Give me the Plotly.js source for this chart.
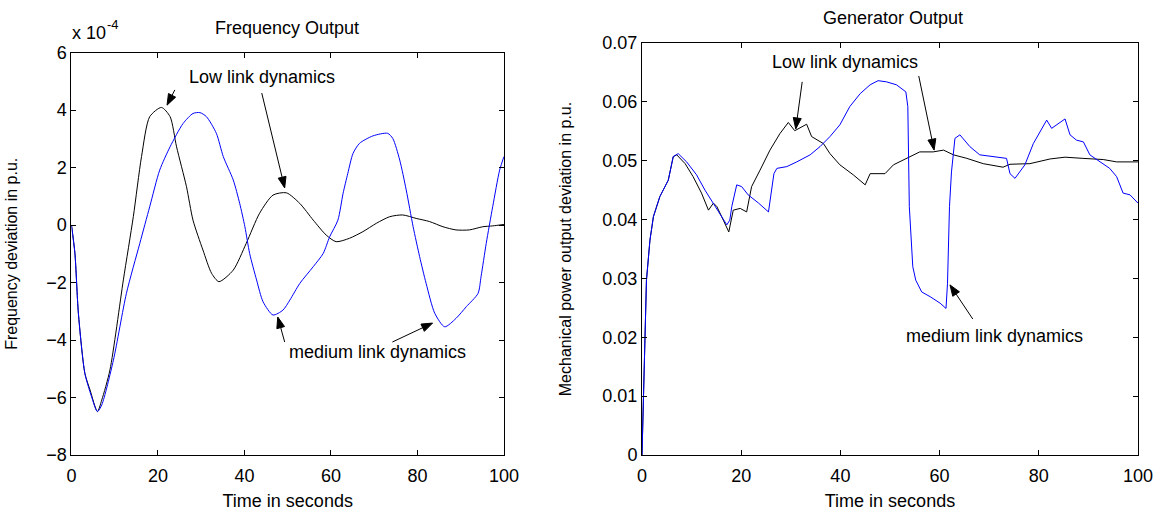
<!DOCTYPE html>
<html>
<head>
<meta charset="utf-8">
<script src="https://cdn.plot.ly/plotly-3.0.1.min.js"></script>
<style>html,body{margin:0;padding:0;background:#fff}#chart{width:1162px;height:515px}</style>
</head>
<body>
<div id="chart"></div>
<script>
// Frequency output (units of 1e-4)
const freqLowT = [0,0.8,1.6,3.1,4.3,6.0,7.0,8.9,12.0,14.3,16.2,18.1,20.8,22.8,24.3,26.6,28.1,30.4,32.4,34.1,37.4,40.4,43.5,46.6,49.7,52.8,55.9,58.9,61.2,64.3,67.4,70.5,73.6,76.6,79.7,82.8,85.9,88.9,92.0,95.1,97.4,100];
const freqLowV = [0,-0.99,-3.07,-5.16,-5.74,-6.49,-6.09,-5.04,-1.91,0.29,2.38,3.77,4.09,3.77,2.72,1.33,0.17,-0.87,-1.68,-1.97,-1.57,-0.64,0.41,1.04,1.12,0.75,0.17,-0.35,-0.58,-0.46,-0.23,0.06,0.29,0.35,0.23,0.12,-0.06,-0.17,-0.17,-0.06,-0.03,0.02];
const freqMedT = [0,0.8,1.6,3.1,4.6,6.0,7.0,9.7,12.7,15.8,18.1,20.4,22.8,25.8,28.1,29.7,31.2,33.5,35.1,37.4,38.9,40.1,41.2,42.8,44.3,46.6,48.9,50.5,52.8,55.9,58.2,59.7,61.6,62.8,63.9,65.1,66.6,69.7,73.1,74.3,75.9,77.4,79.0,80.5,82.0,84.0,86.3,88.9,91.3,94.0,94.7,95.9,97.4,99.0,100];
const freqMedV = [0,-0.99,-3.07,-5.16,-5.95,-6.49,-6.26,-4.70,-2.38,-0.64,0.64,1.91,2.72,3.53,3.88,3.91,3.77,3.19,2.38,1.57,0.75,-0.06,-0.99,-1.91,-2.67,-3.13,-2.96,-2.61,-2.03,-1.45,-0.99,-0.41,0.17,1.10,1.80,2.49,2.84,3.10,3.19,3.01,2.26,1.22,-0.06,-1.10,-2.03,-3.07,-3.54,-3.25,-2.84,-2.38,-1.80,-0.64,0.64,1.91,2.38];

// Generator output
const genLowT = [0,0.4,0.9,1.6,2.3,3.6,5.3,6.3,7.0,8.7,10.3,12.0,13.4,14.4,15.1,16.4,17.5,18.4,19.8,21.1,22.1,23.8,25.8,27.8,29.5,30.8,33.2,34.2,36.6,37.9,39.9,42.6,45.0,46.0,49.0,50.7,53.4,56.0,58.7,60.8,62.8,65.5,68.8,72.8,74.2,78.2,82.3,85.3,88.9,93.0,95.7,100];
const genLowV = [0,0.0139,0.0297,0.0365,0.0405,0.0439,0.0467,0.0507,0.0510,0.0495,0.0473,0.0445,0.0416,0.0428,0.0422,0.0399,0.0379,0.0416,0.0419,0.0413,0.0456,0.0484,0.0518,0.0546,0.0565,0.0551,0.0562,0.0541,0.0529,0.0512,0.0493,0.0476,0.0459,0.0478,0.0478,0.0493,0.0504,0.0515,0.0515,0.0518,0.0510,0.0504,0.0495,0.0489,0.0494,0.0495,0.0503,0.0506,0.0504,0.0502,0.0498,0.0498];
const genMedT = [0,0.4,0.9,1.6,2.3,3.6,5.3,6.3,7.3,9.0,11.0,12.7,14.4,15.7,17.1,17.7,18.1,19.1,20.1,21.4,23.5,25.5,26.6,27.2,29.2,31.2,33.9,35.9,37.9,39.9,41.9,44.0,46.0,47.6,49.3,51.3,53.2,53.6,53.9,54.6,55.2,56.4,58.1,60.1,61.3,61.6,62.0,62.4,63.1,64.1,66.1,68.1,70.8,73.5,74.2,75.2,77.2,78.9,81.6,82.6,85.3,86.3,87.6,89.0,90.3,92.3,94.3,95.7,97.0,98.4,100];
const genMedV = [0,0.0139,0.0297,0.0365,0.0405,0.0439,0.0467,0.0507,0.0512,0.0498,0.0476,0.0450,0.0428,0.0411,0.0391,0.0399,0.0422,0.0459,0.0456,0.0442,0.0428,0.0413,0.0478,0.0487,0.0490,0.0498,0.0510,0.0524,0.0541,0.0561,0.0592,0.0614,0.0629,0.0636,0.0634,0.0629,0.0617,0.0592,0.0422,0.0320,0.0297,0.0277,0.0269,0.0258,0.0249,0.0292,0.0422,0.0481,0.0538,0.0544,0.0524,0.0510,0.0507,0.0504,0.0478,0.0470,0.0493,0.0529,0.0569,0.0555,0.0571,0.0544,0.0535,0.0532,0.0510,0.0498,0.0487,0.0473,0.0445,0.0442,0.0428];

const xTicks = [0,20,40,60,80,100];
const freqTicks = [-8,-6,-4,-2,0,2,4,6];
const genTicks = [0,0.01,0.02,0.03,0.04,0.05,0.06,0.07];
const genTickText = ['0','0.01','0.02','0.03','0.04','0.05','0.06','0.07'];

const FONT = 'Liberation Sans, Arial, Helvetica, sans-serif';
const FS = 18;
const W = 1162, H = 515;

const dom = {
  x:[0.0615,0.4337], y:[0.1165,0.898], x2:[0.5525,0.9793], y2:[0.1165,0.9165]
};
const rng = {x:[0,100], y:[-8,6], x2:[0,100], y2:[0,0.07]};

const traces = [
  {x: freqLowT, y: freqLowV, xaxis:'x', yaxis:'y', mode:'lines', line:{color:'#000000', width:1, shape:'spline', smoothing:0.7}, name:'Low link dynamics'},
  {x: freqMedT, y: freqMedV, xaxis:'x', yaxis:'y', mode:'lines', line:{color:'#0000ff', width:1, shape:'spline', smoothing:0.7}, name:'medium link dynamics'},
  {x: genLowT, y: genLowV, xaxis:'x2', yaxis:'y2', mode:'lines', line:{color:'#000000', width:1}, name:'Low link dynamics'},
  {x: genMedT, y: genMedV, xaxis:'x2', yaxis:'y2', mode:'lines', line:{color:'#0000ff', width:1}, name:'medium link dynamics'}
];

// arrows: [xref, yref, headX, headY, tailX, tailY] in data units
const arrows = [
  ['x','y',22.1,4.17,23.9,4.70],
  ['x','y',49.3,1.29,44.0,4.59],
  ['x','y',47.7,-3.2,49.3,-4.07],
  ['x','y',83.5,-3.41,74.2,-4.07],
  ['x2','y2',31.0,0.0554,32.3,0.0634],
  ['x2','y2',58.9,0.0518,55.8,0.0644],
  ['x2','y2',62.1,0.0289,66.7,0.0231]
];

function pxPerUnit(ax){
  const d = dom[ax], r = rng[ax];
  const len = (d[1]-d[0]) * (ax[0]==='x' ? W : H);
  return len/(r[1]-r[0]);
}
const shapes = [];
arrows.forEach(a => {
  const [xr, yr, hx, hy, tx, ty] = a;
  const sx = pxPerUnit(xr), sy = pxPerUnit(yr);
  const dxp = (tx-hx)*sx, dyp = -(ty-hy)*sy;
  const L = Math.hypot(dxp, dyp);
  const ux = dxp/L, uy = dyp/L;
  const hl = 11, hw = 4;
  const bx = ux*hl, by = uy*hl;
  const px = -uy*hw, py = ux*hw;
  const toX = p => hx + p/sx, toY = p => hy - p/sy;
  shapes.push({type:'line', xref:xr, yref:yr, x0:tx, y0:ty, x1:toX(bx), y1:toY(by), line:{color:'#000', width:1}});
  const path = 'M'+hx+','+hy+' L'+toX(bx+px)+','+toY(by+py)+' L'+toX(bx-px)+','+toY(by-py)+' Z';
  shapes.push({type:'path', xref:xr, yref:yr, path:path, fillcolor:'#000', line:{color:'#000', width:1}});
});

const axisCommon = {
  showline:true, linecolor:'#000', linewidth:1, mirror:'ticks', ticks:'inside', ticklen:5, tickcolor:'#000',
  showgrid:false, zeroline:false, tickfont:{family:FONT, size:FS, color:'#000'}
};

const layout = {
  width:W, height:H, margin:{l:0,r:0,t:0,b:0}, showlegend:false,
  paper_bgcolor:'#fff', plot_bgcolor:'#fff',
  font:{family:FONT, size:FS, color:'#000'},
  title:{text:'Frequency Output', font:{family:FONT,size:FS,color:'#000'}, xref:'paper', yref:'paper', x:287/W, y:1-28/H, xanchor:'center', yanchor:'middle'},
  xaxis: Object.assign({}, axisCommon, {domain:dom.x, range:rng.x, tickvals:xTicks, anchor:'y', ticklabelstandoff:4,
    title:{text:'Time in seconds', font:{family:FONT,size:FS,color:'#000'}, standoff:9}}),
  yaxis: Object.assign({}, axisCommon, {domain:dom.y, range:rng.y, tickvals:freqTicks, anchor:'x',
    title:{text:'Frequency deviation in p.u.', font:{family:FONT,size:16,color:'#000'}, standoff:24}}),
  xaxis2: Object.assign({}, axisCommon, {domain:dom.x2, range:rng.x2, tickvals:xTicks, anchor:'y2', ticklabelstandoff:4,
    title:{text:'Time in seconds', font:{family:FONT,size:FS,color:'#000'}, standoff:9}}),
  yaxis2: Object.assign({}, axisCommon, {domain:dom.y2, range:rng.y2, tickvals:genTicks, ticktext:genTickText, anchor:'x2',
    title:{text:'Mechanical power output deviation in p.u.', font:{family:FONT,size:16,color:'#000'}, standoff:26}}),
  shapes: shapes,
  annotations: [
    {xref:'paper', yref:'paper', x:893/W, y:1-18/H, text:'Generator Output', showarrow:false, font:{family:FONT,size:FS}, xanchor:'center', yanchor:'middle'},
    {xref:'paper', yref:'paper', x:70/W, y:1-33/H, text:'x 10', showarrow:false, font:{family:FONT,size:FS}, xanchor:'left', yanchor:'middle'},
    {xref:'paper', yref:'paper', x:105/W, y:1-25/H, text:'-4', showarrow:false, font:{family:FONT,size:13}, xanchor:'left', yanchor:'middle'},
    {xref:'x', yref:'y', x:44.0, y:5.15, text:'Low link dynamics', showarrow:false, font:{family:FONT,size:FS}},
    {xref:'x', yref:'y', x:70.8, y:-4.42, text:'medium link dynamics', showarrow:false, font:{family:FONT,size:FS}},
    {xref:'x2', yref:'y2', x:40.9, y:0.0668, text:'Low link dynamics', showarrow:false, font:{family:FONT,size:FS}},
    {xref:'x2', yref:'y2', x:71.0, y:0.0202, text:'medium link dynamics', showarrow:false, font:{family:FONT,size:FS}}
  ]
};

Plotly.newPlot('chart', traces, layout, {staticPlot:true, displayModeBar:false});
</script>
</body>
</html>
